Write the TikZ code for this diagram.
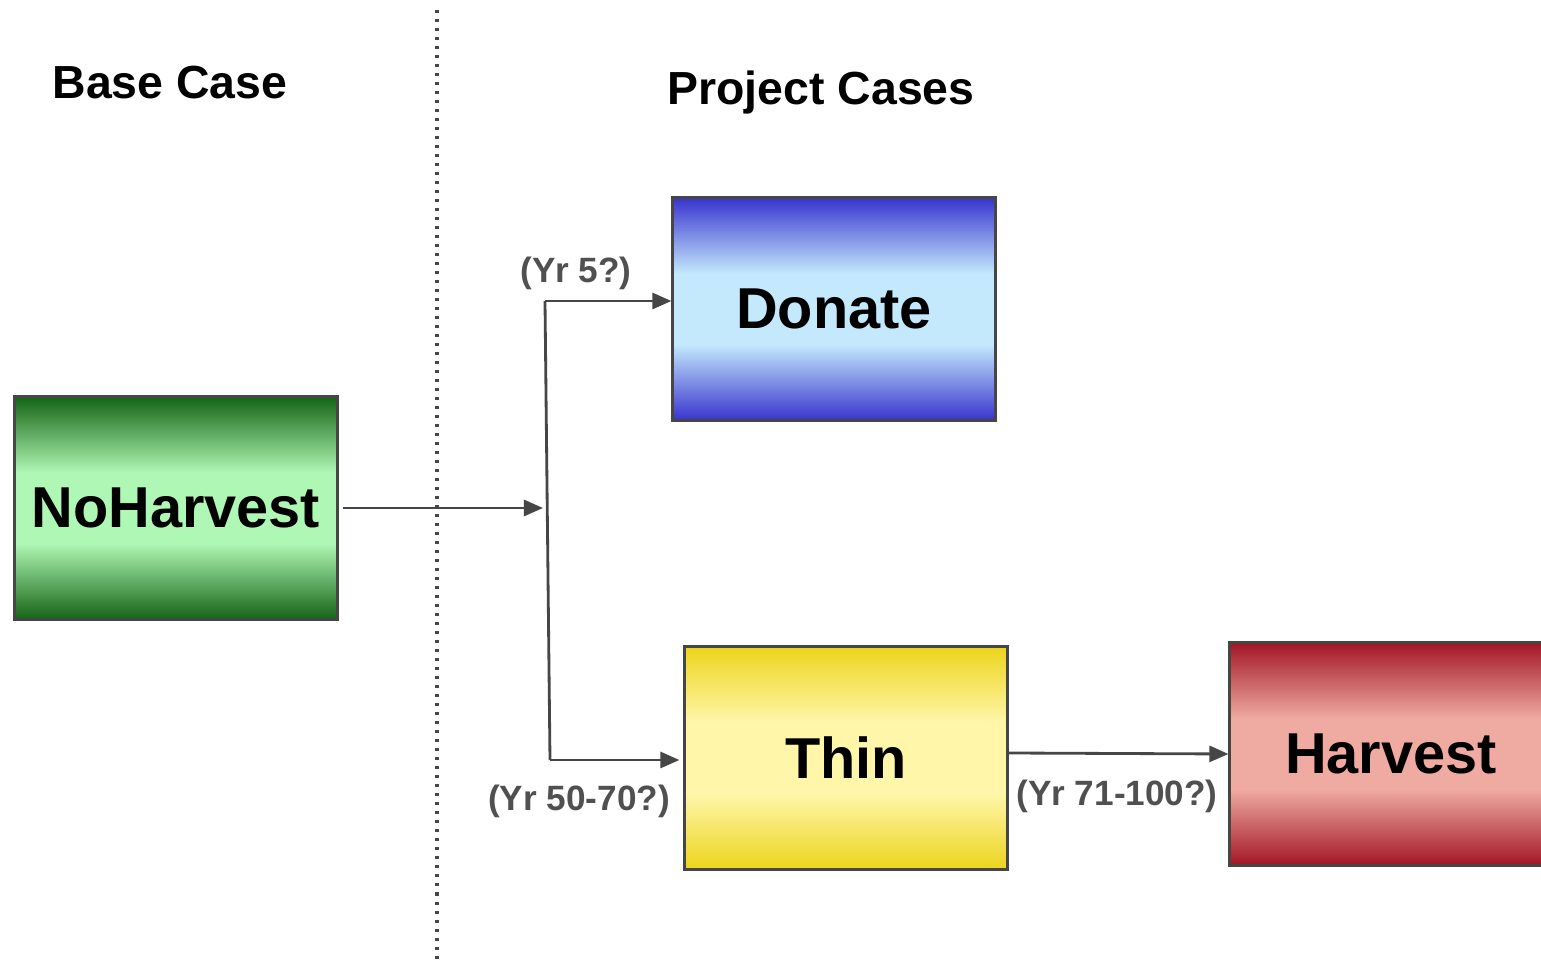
\documentclass[tikz,border=0pt]{standalone}
\usepackage{fontspec}
\setmainfont{Liberation Sans}
\usetikzlibrary{arrows.meta,positioning}

\definecolor{gdark}{RGB}{22,100,22}
\definecolor{glight}{RGB}{174,247,180}
\definecolor{bdark}{RGB}{56,52,206}
\definecolor{blight}{RGB}{196,232,252}
\definecolor{ydark}{RGB}{236,212,28}
\definecolor{ylight}{RGB}{255,246,170}
\definecolor{rdark}{RGB}{163,22,38}
\definecolor{rlight}{RGB}{239,170,162}
\definecolor{linegray}{RGB}{70,70,70}
\definecolor{labelgray}{RGB}{80,80,80}

\pgfdeclareverticalshading{greenbox}{100bp}{color(0bp)=(gdark); color(25bp)=(gdark); color(42bp)=(glight); color(58bp)=(glight); color(75bp)=(gdark); color(100bp)=(gdark)}
\pgfdeclareverticalshading{bluebox}{100bp}{color(0bp)=(bdark); color(25bp)=(bdark); color(42bp)=(blight); color(58bp)=(blight); color(75bp)=(bdark); color(100bp)=(bdark)}
\pgfdeclareverticalshading{yellowbox}{100bp}{color(0bp)=(ydark); color(25bp)=(ydark); color(42bp)=(ylight); color(58bp)=(ylight); color(75bp)=(ydark); color(100bp)=(ydark)}
\pgfdeclareverticalshading{redbox}{100bp}{color(0bp)=(rdark); color(25bp)=(rdark); color(42bp)=(rlight); color(58bp)=(rlight); color(75bp)=(rdark); color(100bp)=(rdark)}

\begin{document}
\begin{tikzpicture}[x=0.01cm, y=-0.01cm,
    casebox/.style={draw=linegray, line width=0.85pt, minimum width=3.22cm,
      minimum height=2.22cm, inner sep=0pt,
      font=\fontsize{16.4}{18}\selectfont\bfseries},
    title/.style={anchor=base, font=\fontsize{13.2}{15}\selectfont\bfseries},
    yrlabel/.style={anchor=base, text=labelgray, font=\fontsize{10}{12}\selectfont\bfseries},
    conn/.style={draw=linegray, line width=0.8pt},
    arr/.style={conn, -{Triangle[length=1.9mm,width=1.6mm]}}]
  \clip (0,0) rectangle (1541,961);

  % Headings
  \node[title] (base) at (170,99) {Base Case};
  \node[title] (proj) at (821,105) {Project Cases};

  % Cases
  \node[casebox, shading=greenbox] (NoHarvest) at (176,508) {NoHarvest};
  \node[casebox, shading=bluebox] (Donate) at (834,309) {Donate};
  \node[casebox, shading=yellowbox] (Thin) at (846,758) {Thin};
  \node[casebox, shading=redbox] (Harvest) at (1391,754) {Harvest};

  % Branch points
  \coordinate (jtop) at (545,301);
  \coordinate (jmid) at (543,508);
  \coordinate (jbot) at (550,760);

  \draw[arr] ([xshift=0.4mm]NoHarvest.east) -- (jmid);
  \draw[conn] (jtop) -- (jbot);
  \draw[arr] (jtop) -- (jtop -| Donate.west);
  \draw[arr] (jbot) -- ([xshift=-0.4mm]jbot -| Thin.west);
  \draw[arr] ([yshift=0.5mm]Thin.east) -- (Harvest.west);

  % Years
  \node[yrlabel] (yr5) at (576,283) {(Yr 5?)};
  \node[yrlabel] (yr50) at (579,811) {(Yr 50-70?)};
  \node[yrlabel] (yr71) at (1117,806) {(Yr 71-100?)};

  % Divider
  \coordinate (divtop) at (437,10);
  \coordinate (divbot) at (437,961);
  \draw[linegray, line width=0.35mm, dash pattern=on 0.3mm off 0.6mm] (divtop) -- (divbot);
\end{tikzpicture}
\end{document}
